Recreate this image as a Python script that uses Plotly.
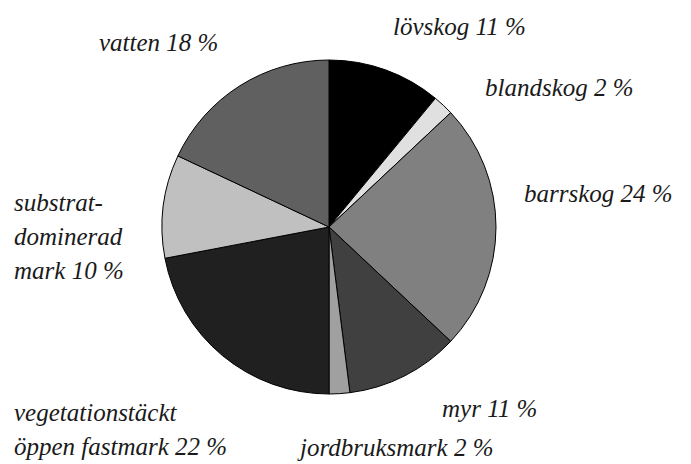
import plotly.graph_objects as go

# land cover shares, clockwise from 12 o'clock
labels = ["lövskog", "blandskog", "barrskog", "myr", "jordbruksmark",
          "vegetationstäckt öppen fastmark", "substrat-dominerad mark", "vatten"]
values = [11, 2, 24, 11, 2, 22, 10, 18]
colors = ["#000000", "#e0e0e0", "#808080", "#404040", "#a0a0a0",
          "#202020", "#c0c0c0", "#606060"]

# how each label is broken into lines on the chart
label_lines = [
    ["lövskog"], ["blandskog"], ["barrskog"], ["myr"], ["jordbruksmark"],
    ["vegetationstäckt", "öppen fastmark"], ["substrat-", "dominerad", "mark"], ["vatten"],
]

# the page body has an 8px margin, so the figure is shifted by that much
OFF = 8
W, H = 691 - OFF, 464 - OFF


def fx(px):
    return (px - OFF) / W


def fy(py):
    return 1 - (py - OFF) / H


fig = go.Figure()
fig.add_trace(go.Pie(
    labels=labels, values=values, sort=False, direction="clockwise", rotation=0,
    marker=dict(colors=colors, line=dict(color="#000000", width=1)),
    textinfo="none", hoverinfo="label+percent", showlegend=False,
    domain=dict(x=[fx(162), fx(496)], y=[fy(394), fy(60)]),
))

# label placement in reference pixels: left edge, centre of first line
pos = [(391, 27), (483, 87), (522, 193), (440, 408), (295, 447),
       (12, 412), (12, 202), (97, 42)]
line_gap = 34

font = dict(family="Times New Roman, Liberation Serif, DejaVu Serif, serif",
            size=25, color="#1a1a1a", style="italic")
for name, lines, v, (px, py) in zip(labels, label_lines, values, pos):
    for i, ln in enumerate(lines):
        txt = ln
        if i == len(lines) - 1:
            txt = f"{ln} {v} %"
        fig.add_annotation(
            x=fx(px), y=fy(py + i * line_gap), xref="paper", yref="paper",
            xanchor="left", yanchor="middle", showarrow=False,
            text=txt, font=font,
        )

fig.update_layout(
    width=W, height=H, margin=dict(l=0, r=0, t=0, b=0),
    paper_bgcolor="white", plot_bgcolor="white",
)

fig.write_html("out.html")
